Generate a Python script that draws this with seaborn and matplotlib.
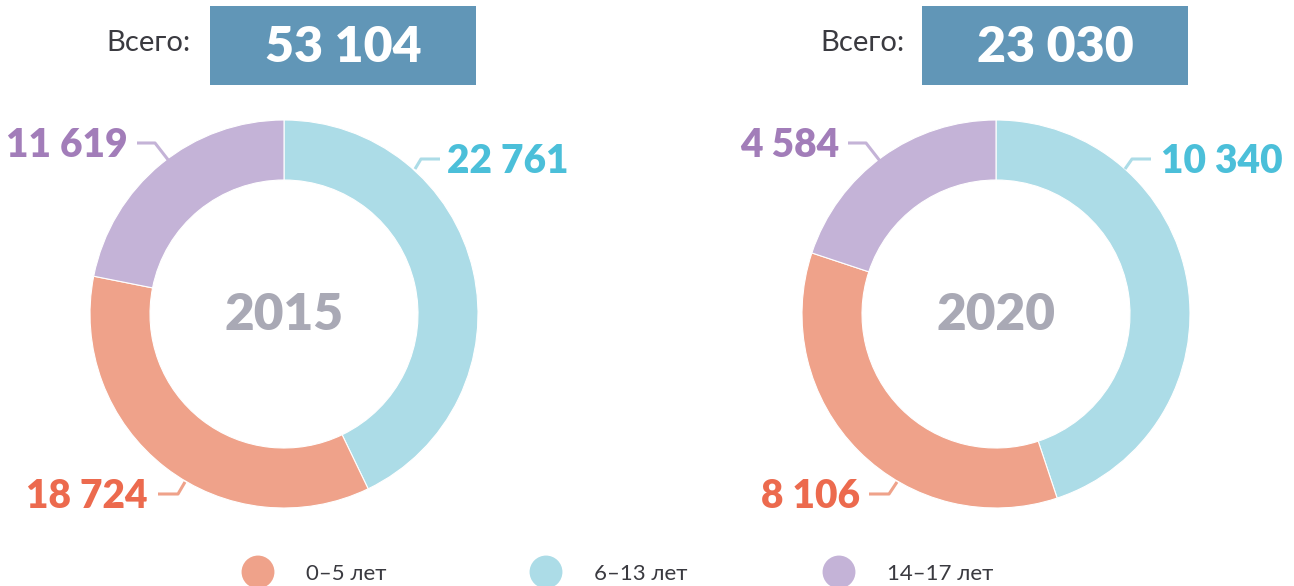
import matplotlib
matplotlib.use("Agg")
import matplotlib.pyplot as plt
from matplotlib.patches import Rectangle
import seaborn as sns

# ---- data ----
categories = ["0–5 лет", "6–13 лет", "14–17 лет"]
years = ["2015", "2020"]
values_2015 = [18724, 22761, 11619]
values_2020 = [8106, 10340, 4584]
totals = [53104, 23030]
label_total = "Всего:"

sns.set_theme(style="white")
plt.rcParams["font.family"] = ["Lato", "Noto Sans", "DejaVu Sans"]

ring_colors = sns.color_palette(["#efa28a", "#acdce7", "#c4b3d7"])
text_colors = ["#ec6a4e", "#4bbfd9", "#a27db9"]
box_color = "#6196b7"
year_color = "#a9a9b5"

W, H = 1294, 586
fig = plt.figure(figsize=(W / 100, H / 100), dpi=100)
ax = fig.add_axes([0, 0, 1, 1])


def fmt(v):
    return f"{v:,}".replace(",", " ")


def Y(y):
    return H - y


# draw order on ring: 6-13, 0-5, 14-17 clockwise from top
order = [1, 0, 2]

layout = [
    dict(cx=284, cy=314, box=(210, 476), vsego_x=191,
         labels={
             2: dict(x=128, y=157, ha="right", line=[(137, 143), (155, 143), (169, 161)]),
             1: dict(x=447, y=173, ha="left", line=[(415, 169), (421, 159), (440, 159)]),
             0: dict(x=148, y=508, ha="right", line=[(158, 494), (178, 494), (185, 482)]),
         }),
    dict(cx=996, cy=314, box=(922, 1188), vsego_x=905,
         labels={
             2: dict(x=839, y=157, ha="right", line=[(848, 143), (866, 143), (880, 161)]),
             1: dict(x=1161, y=173, ha="left", line=[(1125, 169), (1132, 159), (1151, 159)]),
             0: dict(x=860, y=508, ha="right", line=[(869, 494), (889, 494), (897, 482)]),
         }),
]

for vals, year, total, lay in zip([values_2015, values_2020], years, totals, layout):
    ax.pie([vals[i] for i in order],
           colors=[ring_colors[i] for i in order],
           startangle=90, counterclock=False,
           radius=194, center=(lay["cx"], Y(lay["cy"])),
           wedgeprops=dict(width=60, edgecolor="white", linewidth=0.8))
    ax.text(lay["cx"], Y(330), year, ha="center", va="baseline",
            fontsize=37, fontweight="heavy", color=year_color)
    # total box
    x0, x1 = lay["box"]
    ax.add_patch(Rectangle((x0, Y(85)), x1 - x0, 79, facecolor=box_color,
                           edgecolor="none"))
    ax.text((x0 + x1) / 2, Y(62), fmt(total), ha="center", va="baseline",
            fontsize=36, fontweight="heavy", color="white")
    ax.text(lay["vsego_x"], Y(51), label_total, ha="right", va="baseline",
            fontsize=21, color="#3a3a40", fontweight="normal")
    # value labels with leaders
    for i, spec in lay["labels"].items():
        xs = [p[0] for p in spec["line"]]
        ys = [Y(p[1]) for p in spec["line"]]
        ax.plot(xs, ys, color=ring_colors[i], lw=2.2, solid_capstyle="butt")
        ax.text(spec["x"], Y(spec["y"]), fmt(vals[i]), ha=spec["ha"],
                va="baseline", fontsize=28, fontweight="heavy",
                color=text_colors[i])

# legend
leg_x = [258, 546, 839]
for i, (cat, lx) in enumerate(zip(categories, leg_x)):
    ax.scatter([lx], [Y(572)], s=560, color=ring_colors[i], edgecolor="none",
               zorder=3)
    ax.text(lx + 48, Y(580), cat, ha="left", va="baseline", fontsize=16,
            color="#3a3a40")

ax.set_xlim(0, W)
ax.set_ylim(0, H)
ax.set_aspect("equal")
ax.axis("off")

fig.savefig("out.png", dpi=100, facecolor="white")
